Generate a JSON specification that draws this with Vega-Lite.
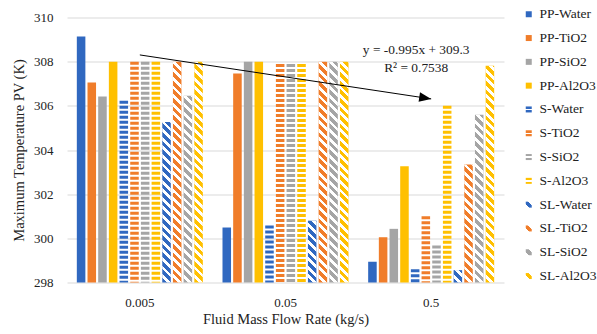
{
  "$schema": "https://vega.github.io/schema/vega-lite/v6.json",
  "width": 437,
  "height": 265,
  "autosize": {"type": "none"},
  "padding": {"left": 67, "top": 17.5, "right": 93, "bottom": 51.5},
  "background": "white",
  "params": [
    {"name": "ds", "value": [
      {"offset":0,"color":"transparent"},{"offset":0.0196,"color":"transparent"},{"offset":0.0196,"color":"white"},{"offset":0.0357,"color":"white"},
      {"offset":0.0357,"color":"transparent"},{"offset":0.0553,"color":"transparent"},{"offset":0.0553,"color":"white"},{"offset":0.0714,"color":"white"},
      {"offset":0.0714,"color":"transparent"},{"offset":0.091,"color":"transparent"},{"offset":0.091,"color":"white"},{"offset":0.1071,"color":"white"},
      {"offset":0.1071,"color":"transparent"},{"offset":0.1267,"color":"transparent"},{"offset":0.1267,"color":"white"},{"offset":0.1429,"color":"white"},
      {"offset":0.1429,"color":"transparent"},{"offset":0.1625,"color":"transparent"},{"offset":0.1625,"color":"white"},{"offset":0.1786,"color":"white"},
      {"offset":0.1786,"color":"transparent"},{"offset":0.1982,"color":"transparent"},{"offset":0.1982,"color":"white"},{"offset":0.2143,"color":"white"},
      {"offset":0.2143,"color":"transparent"},{"offset":0.2339,"color":"transparent"},{"offset":0.2339,"color":"white"},{"offset":0.25,"color":"white"},
      {"offset":0.25,"color":"transparent"},{"offset":0.2696,"color":"transparent"},{"offset":0.2696,"color":"white"},{"offset":0.2857,"color":"white"},
      {"offset":0.2857,"color":"transparent"},{"offset":0.3053,"color":"transparent"},{"offset":0.3053,"color":"white"},{"offset":0.3214,"color":"white"},
      {"offset":0.3214,"color":"transparent"},{"offset":0.341,"color":"transparent"},{"offset":0.341,"color":"white"},{"offset":0.3571,"color":"white"},
      {"offset":0.3571,"color":"transparent"},{"offset":0.3767,"color":"transparent"},{"offset":0.3767,"color":"white"},{"offset":0.3929,"color":"white"},
      {"offset":0.3929,"color":"transparent"},{"offset":0.4125,"color":"transparent"},{"offset":0.4125,"color":"white"},{"offset":0.4286,"color":"white"},
      {"offset":0.4286,"color":"transparent"},{"offset":0.4482,"color":"transparent"},{"offset":0.4482,"color":"white"},{"offset":0.4643,"color":"white"},
      {"offset":0.4643,"color":"transparent"},{"offset":0.4839,"color":"transparent"},{"offset":0.4839,"color":"white"},{"offset":0.5,"color":"white"},
      {"offset":0.5,"color":"transparent"},{"offset":0.5196,"color":"transparent"},{"offset":0.5196,"color":"white"},{"offset":0.5357,"color":"white"},
      {"offset":0.5357,"color":"transparent"},{"offset":0.5553,"color":"transparent"},{"offset":0.5553,"color":"white"},{"offset":0.5714,"color":"white"},
      {"offset":0.5714,"color":"transparent"},{"offset":0.591,"color":"transparent"},{"offset":0.591,"color":"white"},{"offset":0.6071,"color":"white"},
      {"offset":0.6071,"color":"transparent"},{"offset":0.6267,"color":"transparent"},{"offset":0.6267,"color":"white"},{"offset":0.6429,"color":"white"},
      {"offset":0.6429,"color":"transparent"},{"offset":0.6625,"color":"transparent"},{"offset":0.6625,"color":"white"},{"offset":0.6786,"color":"white"},
      {"offset":0.6786,"color":"transparent"},{"offset":0.6982,"color":"transparent"},{"offset":0.6982,"color":"white"},{"offset":0.7143,"color":"white"},
      {"offset":0.7143,"color":"transparent"},{"offset":0.7339,"color":"transparent"},{"offset":0.7339,"color":"white"},{"offset":0.75,"color":"white"},
      {"offset":0.75,"color":"transparent"},{"offset":0.7696,"color":"transparent"},{"offset":0.7696,"color":"white"},{"offset":0.7857,"color":"white"},
      {"offset":0.7857,"color":"transparent"},{"offset":0.8053,"color":"transparent"},{"offset":0.8053,"color":"white"},{"offset":0.8214,"color":"white"},
      {"offset":0.8214,"color":"transparent"},{"offset":0.841,"color":"transparent"},{"offset":0.841,"color":"white"},{"offset":0.8571,"color":"white"},
      {"offset":0.8571,"color":"transparent"},{"offset":0.8767,"color":"transparent"},{"offset":0.8767,"color":"white"},{"offset":0.8929,"color":"white"},
      {"offset":0.8929,"color":"transparent"},{"offset":0.9125,"color":"transparent"},{"offset":0.9125,"color":"white"},{"offset":0.9286,"color":"white"},
      {"offset":0.9286,"color":"transparent"},{"offset":0.9482,"color":"transparent"},{"offset":0.9482,"color":"white"},{"offset":0.9643,"color":"white"},
      {"offset":0.9643,"color":"transparent"},{"offset":0.9839,"color":"transparent"},{"offset":0.9839,"color":"white"},{"offset":1,"color":"white"}
    ]}
  ],
  "data": {"values": [
    {"rate": "0.005", "series": "PP-Water", "value": 309.14},
    {"rate": "0.005", "series": "PP-TiO2", "value": 307.06},
    {"rate": "0.005", "series": "PP-SiO2", "value": 306.42},
    {"rate": "0.005", "series": "PP-Al2O3", "value": 308.0},
    {"rate": "0.005", "series": "S-Water", "value": 306.23},
    {"rate": "0.005", "series": "S-TiO2", "value": 308.0},
    {"rate": "0.005", "series": "S-SiO2", "value": 308.0},
    {"rate": "0.005", "series": "S-Al2O3", "value": 308.0},
    {"rate": "0.005", "series": "SL-Water", "value": 305.27},
    {"rate": "0.005", "series": "SL-TiO2", "value": 308.0},
    {"rate": "0.005", "series": "SL-SiO2", "value": 306.46},
    {"rate": "0.005", "series": "SL-Al2O3", "value": 308.0},
    {"rate": "0.05", "series": "PP-Water", "value": 300.49},
    {"rate": "0.05", "series": "PP-TiO2", "value": 307.46},
    {"rate": "0.05", "series": "PP-SiO2", "value": 308.0},
    {"rate": "0.05", "series": "PP-Al2O3", "value": 308.0},
    {"rate": "0.05", "series": "S-Water", "value": 300.58},
    {"rate": "0.05", "series": "S-TiO2", "value": 307.9},
    {"rate": "0.05", "series": "S-SiO2", "value": 307.9},
    {"rate": "0.05", "series": "S-Al2O3", "value": 307.9},
    {"rate": "0.05", "series": "SL-Water", "value": 300.8},
    {"rate": "0.05", "series": "SL-TiO2", "value": 308.0},
    {"rate": "0.05", "series": "SL-SiO2", "value": 308.0},
    {"rate": "0.05", "series": "SL-Al2O3", "value": 308.0},
    {"rate": "0.5", "series": "PP-Water", "value": 298.94},
    {"rate": "0.5", "series": "PP-TiO2", "value": 300.05},
    {"rate": "0.5", "series": "PP-SiO2", "value": 300.43},
    {"rate": "0.5", "series": "PP-Al2O3", "value": 303.26},
    {"rate": "0.5", "series": "S-Water", "value": 298.6},
    {"rate": "0.5", "series": "S-TiO2", "value": 301.0},
    {"rate": "0.5", "series": "S-SiO2", "value": 299.67},
    {"rate": "0.5", "series": "S-Al2O3", "value": 306.0},
    {"rate": "0.5", "series": "SL-Water", "value": 298.56},
    {"rate": "0.5", "series": "SL-TiO2", "value": 303.34},
    {"rate": "0.5", "series": "SL-SiO2", "value": 305.6},
    {"rate": "0.5", "series": "SL-Al2O3", "value": 307.82}
  ]},
  "layer": [
    {
      "mark": {"type": "bar", "opacity": 0},
      "encoding": {
        "x": {"field": "rate", "type": "nominal", "title": "Fluid Mass Flow Rate (kg/s)",
          "scale": {"domain": ["0.005", "0.05", "0.5"], "paddingInner": 0, "paddingOuter": 0},
          "axis": {"labelAngle": 0, "domain": false, "ticks": false, "grid": false, "labelPadding": 13.5, "titlePadding": 3.5}},
        "xOffset": {"field": "series", "type": "nominal",
          "scale": {"domain": ["PP-Water","PP-TiO2","PP-SiO2","PP-Al2O3","S-Water","S-TiO2","S-SiO2","S-Al2O3","SL-Water","SL-TiO2","SL-SiO2","SL-Al2O3"], "paddingInner": 0.2, "paddingOuter": 0.92}},
        "y": {"field": "value", "type": "quantitative", "title": "Maximum Temperature PV (K)",
          "scale": {"domain": [298, 310], "zero": false, "nice": false},
          "axis": {"values": [298, 300, 302, 304, 306, 308, 310], "grid": true, "domain": false, "ticks": false, "labelPadding": 14, "titlePadding": 7}},
        "y2": {"datum": 298},
        "fill": {"field": "series", "type": "nominal",
          "scale": {"domain": ["PP-Water","PP-TiO2","PP-SiO2","PP-Al2O3","S-Water","S-TiO2","S-SiO2","S-Al2O3","SL-Water","SL-TiO2","SL-SiO2","SL-Al2O3"],
            "range": [
              "#3068c0", "#f07d2a", "#a5a5a5", "#ffc000",
              {"expr": "{gradient:'linear',x1:0,y1:0,x2:0,y2:1,stops:[{offset:0,color:'#3068c0'},{offset:0.38,color:'#3068c0'},{offset:0.38,color:'white'},{offset:0.62,color:'white'},{offset:0.62,color:'#3068c0'},{offset:1,color:'#3068c0'}]}"},
              {"expr": "{gradient:'linear',x1:0,y1:0,x2:0,y2:1,stops:[{offset:0,color:'#f07d2a'},{offset:0.38,color:'#f07d2a'},{offset:0.38,color:'white'},{offset:0.62,color:'white'},{offset:0.62,color:'#f07d2a'},{offset:1,color:'#f07d2a'}]}"},
              {"expr": "{gradient:'linear',x1:0,y1:0,x2:0,y2:1,stops:[{offset:0,color:'#a5a5a5'},{offset:0.38,color:'#a5a5a5'},{offset:0.38,color:'white'},{offset:0.62,color:'white'},{offset:0.62,color:'#a5a5a5'},{offset:1,color:'#a5a5a5'}]}"},
              {"expr": "{gradient:'linear',x1:0,y1:0,x2:0,y2:1,stops:[{offset:0,color:'#ffc000'},{offset:0.38,color:'#ffc000'},{offset:0.38,color:'white'},{offset:0.62,color:'white'},{offset:0.62,color:'#ffc000'},{offset:1,color:'#ffc000'}]}"},
              {"expr": "{gradient:'linear',x1:0,y1:1,x2:1,y2:0,stops:[{offset:0,color:'white'},{offset:0.28,color:'white'},{offset:0.28,color:'#3068c0'},{offset:0.72,color:'#3068c0'},{offset:0.72,color:'white'},{offset:1,color:'white'}]}"},
              {"expr": "{gradient:'linear',x1:0,y1:1,x2:1,y2:0,stops:[{offset:0,color:'white'},{offset:0.28,color:'white'},{offset:0.28,color:'#f07d2a'},{offset:0.72,color:'#f07d2a'},{offset:0.72,color:'white'},{offset:1,color:'white'}]}"},
              {"expr": "{gradient:'linear',x1:0,y1:1,x2:1,y2:0,stops:[{offset:0,color:'white'},{offset:0.28,color:'white'},{offset:0.28,color:'#a5a5a5'},{offset:0.72,color:'#a5a5a5'},{offset:0.72,color:'white'},{offset:1,color:'white'}]}"},
              {"expr": "{gradient:'linear',x1:0,y1:1,x2:1,y2:0,stops:[{offset:0,color:'white'},{offset:0.28,color:'white'},{offset:0.28,color:'#ffc000'},{offset:0.72,color:'#ffc000'},{offset:0.72,color:'white'},{offset:1,color:'white'}]}"}
            ]},
          "legend": {"title": null, "orient": "none", "legendX": 455, "legendY": -10, "symbolType": "square", "symbolSize": 36, "symbolStrokeWidth": 0, "symbolOpacity": 1, "rowPadding": 8.8, "labelOffset": 4, "padding": 0}
        }
      }
    },
    {
      "transform": [{"filter": "indexof(datum.series,'S-')!==0"}],
      "mark": {"type": "bar"},
      "encoding": {
        "x": {"field": "rate", "type": "nominal"},
        "xOffset": {"field": "series", "type": "nominal"},
        "y": {"field": "value", "type": "quantitative"},
        "y2": {"datum": 298},
        "color": {"field": "series", "type": "nominal", "legend": null,
          "scale": {"domain": ["PP-Water","PP-TiO2","PP-SiO2","PP-Al2O3","S-Water","S-TiO2","S-SiO2","S-Al2O3","SL-Water","SL-TiO2","SL-SiO2","SL-Al2O3"],
                    "range": ["#3068c0","#f07d2a","#a5a5a5","#ffc000","#3068c0","#f07d2a","#a5a5a5","#ffc000","#3068c0","#f07d2a","#a5a5a5","#ffc000"]}}
      }
    },
    {
      "transform": [{"filter": "indexof(datum.series,'SL-')===0"}],
      "mark": {"type": "bar", "fill": {"expr": "{gradient:'linear',x1:0,y1:1,x2:240.4*8.54/(72.93+pow(max(1,(datum.value-298)*22.083),2)),y2:1-240.4*max(1,(datum.value-298)*22.083)/(72.93+pow(max(1,(datum.value-298)*22.083),2)),stops:ds}"}},
      "encoding": {
        "x": {"field": "rate", "type": "nominal"},
        "xOffset": {"field": "series", "type": "nominal"},
        "y": {"field": "value", "type": "quantitative"},
        "y2": {"datum": 298}
      }
    },
    {
      "transform": [{"filter": "indexof(datum.series,'S-')===0"}],
      "mark": {"type": "rule", "strokeWidth": 8.54, "strokeDash": [3, 2], "strokeCap": "butt"},
      "encoding": {
        "x": {"field": "rate", "type": "nominal"},
        "xOffset": {"field": "series", "type": "nominal"},
        "y": {"field": "value", "type": "quantitative"},
        "y2": {"datum": 298},
        "color": {"field": "series", "type": "nominal", "legend": null}
      }
    },
    {
      "data": {"values": [{"rate": "0.005", "value": 308.305}, {"rate": "0.5", "value": 306.315}]},
      "mark": {"type": "line", "color": "black", "strokeWidth": 1},
      "encoding": {
        "x": {"field": "rate", "type": "nominal"},
        "y": {"field": "value", "type": "quantitative"}
      }
    },
    {
      "data": {"values": [{"rate": "0.5", "value": 306.315}]},
      "mark": {"type": "point", "shape": "M -1 -0.4 L 0 0 L -1 0.4 Z", "size": 576, "angle": 8.5, "filled": true, "color": "black", "opacity": 1, "strokeWidth": 0},
      "encoding": {
        "x": {"field": "rate", "type": "nominal"},
        "y": {"field": "value", "type": "quantitative"}
      }
    },
    {
      "data": {"values": [{"rate": "0.5", "value": 308.54, "label": "y = -0.995x + 309.3"}, {"rate": "0.5", "value": 307.73, "label": "R² = 0.7538"}]},
      "mark": {"type": "text", "dx": -15, "align": "center", "baseline": "middle", "font": "Liberation Serif", "fontSize": 13.4, "color": "#222"},
      "encoding": {
        "x": {"field": "rate", "type": "nominal"},
        "y": {"field": "value", "type": "quantitative"},
        "text": {"field": "label"}
      }
    }
  ],
  "config": {
    "view": {"stroke": null},
    "font": "Liberation Serif",
    "axis": {"labelFont": "Liberation Serif", "titleFont": "Liberation Serif", "labelFontSize": 13, "titleFontSize": 14.5, "titleFontWeight": "normal", "labelColor": "#222", "titleColor": "#222", "gridColor": "#d9d9d9", "gridWidth": 1},
    "legend": {"labelFont": "Liberation Serif", "labelFontSize": 13.5, "labelColor": "#222"}
  }
}
